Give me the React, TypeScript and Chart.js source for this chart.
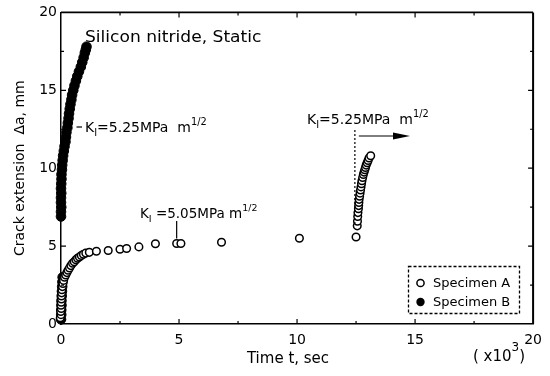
import React, { useEffect, useRef } from "react";
import { Chart, registerables } from "chart.js";

Chart.register(...registerables);

// Time (x10^3 s) and crack extension (mm)
const specimenAX = [
  -0.03, 0, -0.01, 0.01, 0, 0.01, 0.02, 0.02, 0.03, 0.04, 0.06, 0.08, 0.11, 0.15, 0.2, 0.25, 0.3, 0.36, 0.42, 0.49,
  0.56, 0.63, 0.7, 0.78, 0.86, 0.95, 1.05, 1.2, 1.5, 2.0, 2.5, 2.78, 3.3, 4.0, 4.9, 5.08, 6.8, 10.1,
  12.5, 12.55, 12.56, 12.57, 12.58, 12.6, 12.61, 12.62, 12.63, 12.65, 12.67, 12.69, 12.71, 12.73, 12.75, 12.78,
  12.81, 12.84, 12.87, 12.9, 12.93, 12.97, 13.01, 13.05, 13.12,
];
const specimenAY = [
  0.4, 0.6, 0.8, 1.0, 1.2, 1.4, 1.6, 1.8, 2.0, 2.2, 2.4, 2.6, 2.8, 3.0, 3.15, 3.3, 3.45, 3.6, 3.75, 3.9,
  4.0, 4.12, 4.22, 4.3, 4.4, 4.48, 4.55, 4.6, 4.67, 4.72, 4.8, 4.85, 4.95, 5.15, 5.17, 5.17, 5.25, 5.5,
  5.58, 6.3, 6.6, 6.9, 7.15, 7.4, 7.6, 7.8, 8.0, 8.2, 8.4, 8.6, 8.8, 9.0, 9.2, 9.4,
  9.6, 9.75, 9.9, 10.05, 10.2, 10.35, 10.5, 10.65, 10.8,
];
const specimenBX = [
  0, 0.01, 0.01, 0.02, 0.02, 0.03, 0.04, 0.05, 0.06, 0.07,
  0, 0, 0.01, 0, 0, 0.01, 0, 0.01, 0.02, 0.02, 0.04, 0.05, 0.07, 0.09, 0.12, 0.15, 0.19, 0.21, 0.23, 0.27,
  0.29, 0.32, 0.34, 0.37, 0.4, 0.44, 0.47, 0.52, 0.57, 0.63, 0.69, 0.76, 0.84, 0.9, 0.96, 1.01, 1.05, 1.08,
];
const specimenBY = [
  0.3, 0.6, 0.9, 1.2, 1.5, 1.8, 2.1, 2.4, 2.7, 3.0,
  6.9, 7.2, 7.5, 7.8, 8.1, 8.4, 8.7, 9.0, 9.3, 9.6, 9.9, 10.2, 10.5, 10.8, 11.1, 11.4, 11.7, 12.0, 12.3, 12.6,
  12.9, 13.2, 13.5, 13.8, 14.1, 14.4, 14.7, 15.0, 15.3, 15.6, 15.9, 16.2, 16.5, 16.8, 17.1, 17.4, 17.6, 17.8,
];

const xTickValues = [0, 5, 10, 15, 20];
const yTickValues = [0, 5, 10, 15, 20];
const minorTickValues = [2.5, 7.5, 12.5, 17.5];

const seriesNames = ["Specimen A", "Specimen B"];
const annotationText = {
  title: "Silicon nitride, Static",
  kB: "=5.25MPa  m",
  kA1: " =5.05MPa m",
  kA2: "=5.25MPa  m",
};

const FONT = "'DejaVu Sans', 'Liberation Sans', sans-serif";

type Run = { t: string; size: number; dy: number };

function drawRuns(ctx: CanvasRenderingContext2D, x: number, y: number, runs: Run[]) {
  let cx = x;
  for (const r of runs) {
    ctx.font = `${r.size}px ${FONT}`;
    ctx.fillText(r.t, cx, y + r.dy);
    cx += ctx.measureText(r.t).width;
  }
  return cx;
}

function kRuns(rest: string, size: number): Run[] {
  return [
    { t: "K", size, dy: 0 },
    { t: "I", size: size * 0.7, dy: 4 },
    { t: rest, size, dy: 0 },
    { t: "1/2", size: size * 0.7, dy: -7 },
  ];
}

const overlayPlugin = {
  id: "overlay",
  afterDraw(chart: any) {
    const ctx: CanvasRenderingContext2D = chart.ctx;
    const { left, right, top, bottom } = chart.chartArea;
    const xs = chart.scales.x;
    const ys = chart.scales.y;
    ctx.save();
    ctx.strokeStyle = "#000";
    ctx.fillStyle = "#000";

    // top and right frame
    ctx.lineWidth = 1.6;
    ctx.beginPath();
    ctx.moveTo(left, top);
    ctx.lineTo(right, top);
    ctx.stroke();
    ctx.lineWidth = 2;
    ctx.beginPath();
    ctx.moveTo(right, top);
    ctx.lineTo(right, bottom);
    ctx.stroke();

    // inward ticks
    ctx.lineWidth = 1.2;
    const drawTicks = (vals: number[], len: number) => {
      for (const v of vals) {
        const px = xs.getPixelForValue(v);
        const py = ys.getPixelForValue(v);
        ctx.beginPath();
        ctx.moveTo(px, bottom);
        ctx.lineTo(px, bottom - len);
        ctx.moveTo(px, top);
        ctx.lineTo(px, top + len);
        ctx.moveTo(left, py);
        ctx.lineTo(left + len, py);
        ctx.moveTo(right, py);
        ctx.lineTo(right - len, py);
        ctx.stroke();
      }
    };
    drawTicks(xTickValues.slice(1, -1), 5);
    drawTicks(minorTickValues, 3);

    // axis titles
    ctx.font = `14px ${FONT}`;
    ctx.textAlign = "center";
    ctx.textBaseline = "middle";
    ctx.save();
    ctx.translate(20, (top + bottom) / 2);
    ctx.rotate(-Math.PI / 2);
    ctx.fillText("Crack extension  \u0394a, mm", 0, 0);
    ctx.restore();
    ctx.font = `15px ${FONT}`;
    ctx.textBaseline = "alphabetic";
    ctx.fillText("Time t, sec", 288, 363);
    ctx.textAlign = "left";
    const ex = drawRuns(ctx, 473, 361, [
      { t: "( x10", size: 15, dy: 0 },
      { t: "3", size: 12, dy: -10 },
    ]);
    ctx.font = `15px ${FONT}`;
    ctx.fillText(")", ex, 361);

    // annotations
    ctx.textAlign = "left";
    ctx.font = `15px ${FONT}`;
    ctx.save();
    ctx.translate(85, 42);
    ctx.scale(1.14, 1);
    ctx.fillText(annotationText.title, 0, 0);
    ctx.restore();

    ctx.lineWidth = 1.2;
    ctx.beginPath();
    ctx.moveTo(76.5, 127);
    ctx.lineTo(82, 127);
    ctx.stroke();
    drawRuns(ctx, 85, 132, kRuns(annotationText.kB, 14));

    drawRuns(ctx, 140, 218, kRuns(annotationText.kA1, 13.5));
    const lx = xs.getPixelForValue(4.9);
    ctx.beginPath();
    ctx.moveTo(lx, 221);
    ctx.lineTo(lx, ys.getPixelForValue(5.17) - 5);
    ctx.stroke();

    drawRuns(ctx, 307, 124, kRuns(annotationText.kA2, 14));
    const dx = xs.getPixelForValue(12.45);
    ctx.setLineDash([2, 2]);
    ctx.beginPath();
    ctx.moveTo(dx, 130);
    ctx.lineTo(dx, ys.getPixelForValue(6.3));
    ctx.stroke();
    ctx.setLineDash([]);
    ctx.beginPath();
    ctx.moveTo(dx + 4, 136);
    ctx.lineTo(396, 136);
    ctx.stroke();
    ctx.beginPath();
    ctx.moveTo(393, 132.5);
    ctx.lineTo(410, 136);
    ctx.lineTo(393, 139.5);
    ctx.closePath();
    ctx.fill();

    // legend
    ctx.lineWidth = 1.3;
    ctx.setLineDash([3, 2]);
    ctx.strokeRect(408.5, 266.5, 111, 47);
    ctx.setLineDash([]);
    ctx.lineWidth = 1.5;
    ctx.beginPath();
    ctx.arc(420.5, 283, 3.6, 0, Math.PI * 2);
    ctx.fillStyle = "#fff";
    ctx.fill();
    ctx.stroke();
    ctx.fillStyle = "#000";
    ctx.beginPath();
    ctx.arc(420.5, 302, 4.2, 0, Math.PI * 2);
    ctx.fill();
    ctx.font = `13px ${FONT}`;
    ctx.fillText(seriesNames[0], 433, 287);
    ctx.fillText(seriesNames[1], 433, 306);

    ctx.restore();
  },
};

export default function App() {
  const ref = useRef<HTMLCanvasElement | null>(null);
  useEffect(() => {
    if (!ref.current) return;
    const chart = new Chart(ref.current, {
      type: "scatter",
      data: {
        datasets: [
          {
            label: seriesNames[0],
            data: specimenAX.map((x, i) => ({ x, y: specimenAY[i] })),
            pointStyle: "circle",
            pointRadius: 3.8,
            pointBorderWidth: 1.5,
            borderColor: "#000",
            backgroundColor: "#fff",
            clip: false as any,
          },
          {
            label: seriesNames[1],
            data: specimenBX.map((x, i) => ({ x, y: specimenBY[i] })),
            pointStyle: "circle",
            pointRadius: 4.8,
            pointBorderWidth: 1,
            borderColor: "#000",
            backgroundColor: "#000",
            clip: false as any,
          },
        ],
      },
      options: {
        animation: false,
        responsive: false,
        maintainAspectRatio: false,
        layout: { padding: { top: 12, right: 15, left: 0, bottom: 0 } },
        plugins: { legend: { display: false }, tooltip: { enabled: false } },
        scales: {
          x: {
            type: "linear",
            min: 0,
            max: 20,
            afterFit: (s: any) => {
              s.height = 52;
            },
            afterBuildTicks: (s: any) => {
              s.ticks = xTickValues.map((v) => ({ value: v }));
            },
            grid: { display: false, drawTicks: false },
            border: { display: true, color: "#000", width: 1.5 },
            ticks: {
              color: "#000",
              font: { family: FONT, size: 14 },
              padding: 8,
              maxRotation: 0,
              callback: (v: any) => String(v),
            },
          },
          y: {
            type: "linear",
            min: 0,
            max: 20,
            afterFit: (s: any) => {
              s.width = 61;
            },
            afterBuildTicks: (s: any) => {
              s.ticks = yTickValues.map((v) => ({ value: v }));
            },
            grid: { display: false, drawTicks: false },
            border: { display: true, color: "#000", width: 1.5 },
            ticks: {
              color: "#000",
              font: { family: FONT, size: 14 },
              padding: 4,
              callback: (v: any) => String(v),
            },
          },
        },
      },
      plugins: [overlayPlugin],
    });
    return () => chart.destroy();
  }, []);
  return (
    <div style={{ position: "absolute", left: 0, top: 0, width: 550, height: 376, background: "#fff" }}>
      <canvas ref={ref} width={550} height={376} style={{ width: 550, height: 376 }} />
    </div>
  );
}
